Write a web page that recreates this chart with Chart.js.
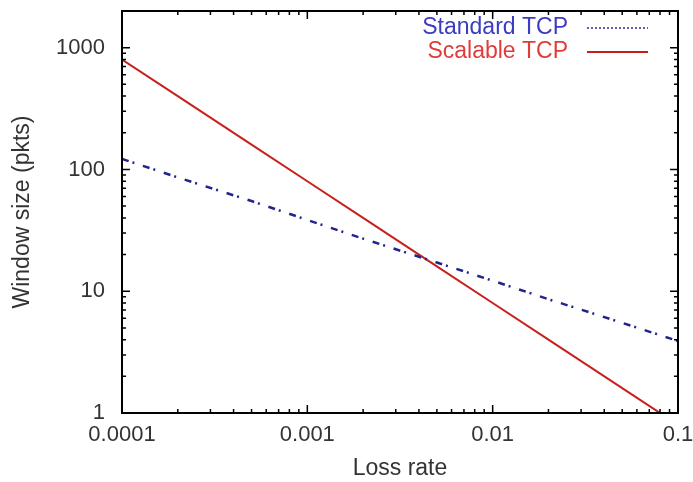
<!DOCTYPE html>
<html>
<head>
<meta charset="utf-8">
<script src="https://cdn.jsdelivr.net/npm/chart.js@4.4.1/dist/chart.umd.min.js"></script>
<style>
  html, body { margin: 0; padding: 0; background: #fff; }
</style>
</head>
<body>
<canvas id="chart" width="693" height="482"></canvas>
<script>
// values (log-log plot)
const lossRates   = [0.0001, 0.0002, 0.0005, 0.001, 0.002, 0.005, 0.01, 0.02, 0.05, 0.1];
const standardTcp = [122, 86, 55, 38.5, 27, 17.2, 12.2, 8.6, 5.5, 3.9];
const scalableTcp = [800, 400, 160, 80, 40, 16, 8, 4, 1.6, 0.8];

const seriesLabels = ['Standard TCP', 'Scalable TCP'];
const xTickValues = [0.0001, 0.001, 0.01, 0.1];
const yTickValues = [1, 10, 100, 1000];

const FONT = '"Liberation Sans", Arial, sans-serif';
const TEXT = '#333';

function toPoints(ys) {
  return lossRates.map((x, i) => ({ x: x, y: ys[i] }));
}

// gnuplot style box: frame plus inward major/minor ticks on all four sides
const frameTicks = {
  id: 'frameTicks',
  afterDatasetsDraw(chart) {
    const { ctx, chartArea: a, scales } = chart;
    const xs = scales.x, ys = scales.y;
    ctx.save();
    ctx.strokeStyle = '#000';
    ctx.lineWidth = 1.5;
    ctx.beginPath();
    const tick = (px, horiz, len) => {
      if (horiz) {
        ctx.moveTo(px, a.bottom); ctx.lineTo(px, a.bottom - len);
        ctx.moveTo(px, a.top); ctx.lineTo(px, a.top + len);
      } else {
        ctx.moveTo(a.left, px); ctx.lineTo(a.left + len, px);
        ctx.moveTo(a.right, px); ctx.lineTo(a.right - len, px);
      }
    };
    xTickValues.forEach(v => {
      tick(xs.getPixelForValue(v), true, 8);
      for (let m = 2; m < 10; m++) {
        const p = xs.getPixelForValue(v * m);
        if (p < a.right) tick(p, true, 4);
      }
    });
    yTickValues.forEach(v => {
      tick(ys.getPixelForValue(v), false, 8);
      for (let m = 2; m < 10; m++) {
        if (v * m <= ys.max) tick(ys.getPixelForValue(v * m), false, 4);
      }
    });
    ctx.stroke();
    ctx.lineWidth = 2;
    ctx.strokeRect(a.left, a.top, a.right - a.left, a.bottom - a.top);
    ctx.restore();
  }
};

// key in the top right: text first, then line sample
const keyBox = {
  id: 'keyBox',
  afterDraw(chart) {
    const { ctx } = chart;
    const textRight = 568, x0 = 587, x1 = 648;
    const rows = [
      { y: 28, color: '#3b3bc4', line: '#2a2a99', dash: [2, 2], width: 1.5 },
      { y: 52, color: '#e03c3a', line: '#c41e1e', dash: [], width: 2 }
    ];
    ctx.save();
    ctx.font = '23px ' + FONT;
    ctx.textAlign = 'right';
    ctx.textBaseline = 'middle';
    rows.forEach((r, i) => {
      ctx.fillStyle = r.color;
      ctx.fillText(chart.data.datasets[i].label, textRight, r.y);
      ctx.strokeStyle = r.line;
      ctx.lineWidth = r.width;
      ctx.setLineDash(r.dash);
      ctx.beginPath();
      ctx.moveTo(x0, r.y); ctx.lineTo(x1, r.y);
      ctx.stroke();
    });
    ctx.restore();
  }
};

const ctx = document.getElementById('chart');

new Chart(ctx, {
  type: 'line',
  data: {
    datasets: [
      {
        label: seriesLabels[0],
        data: toPoints(standardTcp),
        borderColor: '#23238c',
        borderWidth: 2.5,
        borderDash: [7, 4, 2, 9],
        pointRadius: 0,
        fill: false,
        tension: 0
      },
      {
        label: seriesLabels[1],
        data: toPoints(scalableTcp),
        borderColor: '#c8201e',
        borderWidth: 2,
        pointRadius: 0,
        fill: false,
        tension: 0
      }
    ]
  },
  options: {
    responsive: false,
    animation: false,
    devicePixelRatio: 1,
    layout: { padding: { left: 0, right: 15, top: 11, bottom: 0 } },
    plugins: {
      legend: { display: false },
      tooltip: { enabled: false }
    },
    scales: {
      x: {
        type: 'logarithmic',
        min: 0.0001,
        max: 0.1,
        grid: { display: false, drawTicks: false },
        border: { display: false },
        afterBuildTicks(scale) {
          scale.ticks = xTickValues.map(v => ({ value: v }));
        },
        afterFit(scale) {
          scale.height = 69;
          scale.paddingLeft = 0;
          scale.paddingRight = 0;
        },
        ticks: {
          autoSkip: false,
          maxRotation: 0,
          padding: 9,
          color: TEXT,
          font: { family: FONT, size: 22 },
          callback: v => String(v)
        },
        title: {
          display: true,
          text: 'Loss rate',
          color: TEXT,
          font: { family: FONT, size: 23 },
          padding: { top: 0, bottom: 0 }
        }
      },
      y: {
        type: 'logarithmic',
        min: 1,
        max: 2000,
        grid: { display: false, drawTicks: false },
        border: { display: false },
        afterBuildTicks(scale) {
          scale.ticks = yTickValues.map(v => ({ value: v }));
        },
        afterFit(scale) {
          scale.width = 122;
          scale.paddingTop = 0;
          scale.paddingBottom = 0;
        },
        ticks: {
          autoSkip: false,
          padding: 17,
          color: TEXT,
          font: { family: FONT, size: 22 },
          callback: v => String(v)
        },
        title: {
          display: true,
          text: 'Window size (pkts)',
          color: TEXT,
          font: { family: FONT, size: 23 },
          padding: { top: 9, bottom: 0 }
        }
      }
    }
  },
  plugins: [frameTicks, keyBox]
});
</script>
</body>
</html>
